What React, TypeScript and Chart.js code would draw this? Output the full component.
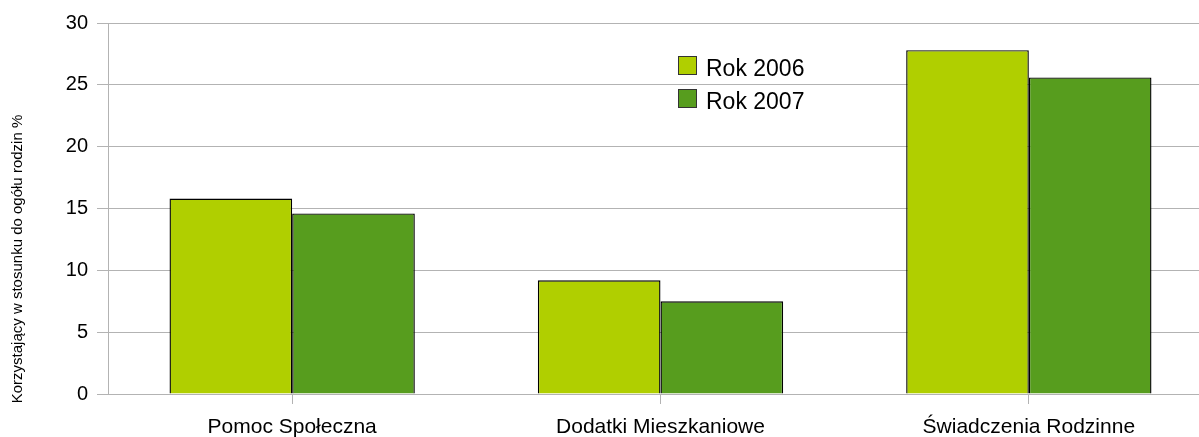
import React, { useEffect, useRef } from "react";
import { Chart, registerables } from "chart.js";

Chart.register(...registerables);

const categories = ["Pomoc Społeczna", "Dodatki Mieszkaniowe", "Świadczenia Rodzinne"];
const seriesNames = ["Rok 2006", "Rok 2007"];
const values2006 = [15.8, 9.2, 27.8];
const values2007 = [14.6, 7.5, 25.6];
const colors = ["#b0cf00", "#579d1e"];
const yTitle = "Korzystający w stosunku do ogółu rodzin %";

const FONT = "'Liberation Sans', Arial, sans-serif";

const yTitlePlugin = {
  id: "yTitlePlugin",
  afterDraw(chart: any) {
    const ctx = chart.ctx;
    ctx.save();
    ctx.translate(18, 259);
    ctx.rotate(-Math.PI / 2);
    ctx.font = `15px ${FONT}`;
    ctx.fillStyle = "#000";
    ctx.textAlign = "center";
    ctx.textBaseline = "middle";
    ctx.fillText(yTitle, 0, 0);
    ctx.restore();
  },
};

const legendPlugin = {
  id: "customLegend",
  afterDraw(chart: any) {
    const ctx = chart.ctx;
    ctx.save();
    chart.data.datasets.forEach((ds: any, i: number) => {
      const cy = 65 + i * 33;
      ctx.fillStyle = ds.backgroundColor;
      ctx.fillRect(678, cy - 9, 19, 19);
      ctx.strokeStyle = "#333";
      ctx.lineWidth = 1;
      ctx.strokeRect(678.5, cy - 8.5, 18, 18);
      ctx.font = `23px ${FONT}`;
      ctx.fillStyle = "#000";
      ctx.textAlign = "left";
      ctx.textBaseline = "middle";
      ctx.fillText(ds.label, 706, cy + 5);
    });
    ctx.restore();
  },
};

export default function App() {
  const ref = useRef<HTMLCanvasElement>(null);
  useEffect(() => {
    if (!ref.current) return;
    const chart = new Chart(ref.current, {
      type: "bar",
      data: {
        labels: categories,
        datasets: [
          {
            label: seriesNames[0],
            data: values2006,
            backgroundColor: colors[0],
            borderColor: "#000",
            borderWidth: 1.4,
          },
          {
            label: seriesNames[1],
            data: values2007,
            backgroundColor: colors[1],
            borderColor: "#000",
            borderWidth: 1.4,
          },
        ],
      },
      options: {
        animation: false,
        responsive: false,
        devicePixelRatio: 1,
        layout: { padding: { top: 23, right: 0, left: 0, bottom: 0 } },
        plugins: {
          legend: { display: false },
          tooltip: { enabled: false },
          title: { display: false },
        },
        datasets: {
          bar: { categoryPercentage: 0.666, barPercentage: 1.0 },
        },
        scales: {
          x: {
            grid: {
              drawOnChartArea: false,
              offset: false,
              tickLength: 10,
              color: "#b3b3b3",
            },
            border: { color: "#b3b3b3" },
            ticks: {
              font: { family: FONT, size: 21 },
              color: "#000",
              padding: 11,
              maxRotation: 0,
              autoSkip: false,
            },
            afterFit(scale: any) {
              scale.height = 43;
            },
          },
          y: {
            min: 0,
            max: 30,
            ticks: {
              stepSize: 5,
              font: { family: FONT, size: 20 },
              color: "#000",
              padding: 9,
            },
            grid: { color: "#b3b3b3", tickLength: 11 },
            border: { color: "#b3b3b3" },
            afterFit(scale: any) {
              scale.width = 108;
            },
          },
        },
      },
      plugins: [yTitlePlugin, legendPlugin],
    });
    return () => chart.destroy();
  }, []);

  return (
    <div
      style={{
        position: "fixed",
        left: 0,
        top: 0,
        width: 1199,
        height: 437,
        overflow: "hidden",
        background: "#fff",
      }}
    >
      <canvas ref={ref} width={1213} height={437} style={{ width: 1213, height: 437, display: "block" }} />
    </div>
  );
}
